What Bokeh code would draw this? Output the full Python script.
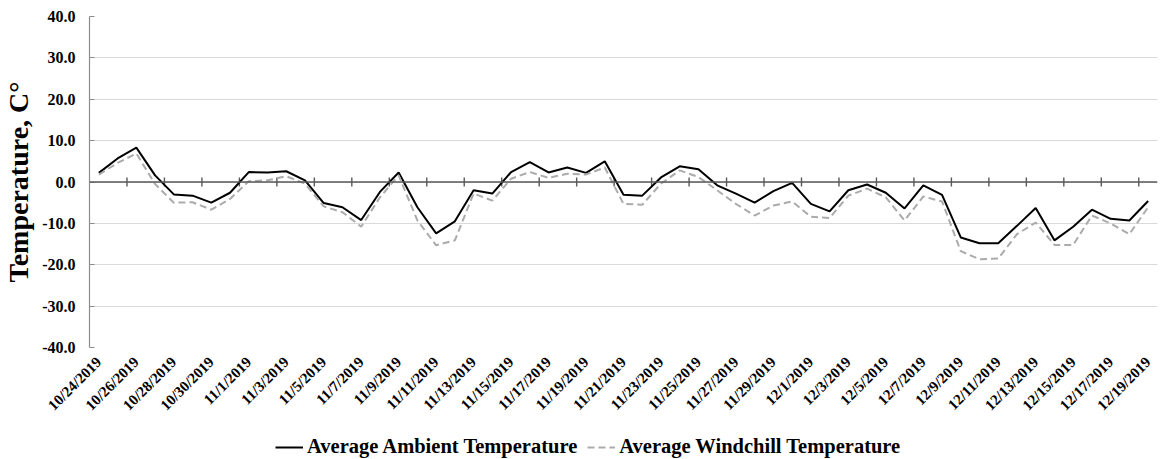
import numpy as np
from bokeh.plotting import figure
from bokeh.layouts import column
from bokeh.models import Span, FixedTicker, Legend, LegendItem, ColumnDataSource, Range1d
from bokeh.embed import file_html
from bokeh.resources import INLINE

dates = [
    "10/24/2019", "10/25/2019", "10/26/2019", "10/27/2019", "10/28/2019", "10/29/2019",
    "10/30/2019", "10/31/2019", "11/1/2019", "11/2/2019", "11/3/2019", "11/4/2019",
    "11/5/2019", "11/6/2019", "11/7/2019", "11/8/2019", "11/9/2019", "11/10/2019",
    "11/11/2019", "11/12/2019", "11/13/2019", "11/14/2019", "11/15/2019", "11/16/2019",
    "11/17/2019", "11/18/2019", "11/19/2019", "11/20/2019", "11/21/2019", "11/22/2019",
    "11/23/2019", "11/24/2019", "11/25/2019", "11/26/2019", "11/27/2019", "11/28/2019",
    "11/29/2019", "11/30/2019", "12/1/2019", "12/2/2019", "12/3/2019", "12/4/2019",
    "12/5/2019", "12/6/2019", "12/7/2019", "12/8/2019", "12/9/2019", "12/10/2019",
    "12/11/2019", "12/12/2019", "12/13/2019", "12/14/2019", "12/15/2019", "12/16/2019",
    "12/17/2019", "12/18/2019", "12/19/2019",
]

ambient = [2.2, 5.7, 8.3, 1.6, -3.0, -3.3, -5.0, -2.6, 2.4, 2.3,
           2.6, 0.4, -5.1, -6.1, -9.2, -2.4, 2.3, -6.1, -12.4, -9.5,
           -2.0, -2.8, 2.4, 4.8, 2.3, 3.5, 2.2, 5.0, -3.1, -3.3,
           1.1, 3.8, 3.1, -0.8, -2.8, -5.0, -2.2, -0.2, -5.3, -7.1,
           -2.0, -0.6, -2.6, -6.4, -0.8, -3.1, -13.4, -14.8, -14.8, -10.6,
           -6.3, -14.1, -10.8, -6.7, -8.9, -9.3, -4.6]

windchill = [1.8, 4.6, 6.9, -0.5, -5.0, -4.9, -6.7, -4.1, 0.2, 0.4,
             1.4, -0.4, -5.9, -7.3, -10.8, -3.7, 1.6, -9.3, -15.3, -14.1,
             -2.8, -4.5, 0.8, 2.4, 1.0, 2.0, 1.8, 3.5, -5.3, -5.5,
             -0.4, 2.8, 1.2, -2.0, -5.3, -8.1, -5.7, -4.7, -8.4, -8.7,
             -3.3, -1.6, -3.7, -9.3, -3.5, -4.7, -16.7, -18.7, -18.5, -12.6,
             -9.8, -15.2, -15.2, -8.1, -10.0, -12.6, -6.1]

series_names = ["Average Ambient Temperature", "Average Windchill Temperature"]
y_ticks = [-40, -30, -20, -10, 0, 10, 20, 30, 40]

FONT = "Liberation Serif"
AMB_STYLE = dict(line_color="black", line_width=2)
WC_STYLE = dict(line_color="#ababab", line_width=2, line_dash="7 4")
n = len(dates)
idx = np.arange(n)

p = figure(width=1161, height=423, output_backend="svg", toolbar_location=None,
           x_range=Range1d(-0.5, n - 0.5), y_range=Range1d(-40, 40),
           min_border_left=89, min_border_right=4, min_border_top=16,
           min_border_bottom=76)
p.outline_line_color = None

# grid
p.xgrid.visible = False
p.ygrid.ticker = FixedTicker(ticks=y_ticks)
p.ygrid.grid_line_color = "#d9d9d9"
p.ygrid.grid_line_width = 1.2

# y axis
p.yaxis.ticker = FixedTicker(ticks=y_ticks)
p.yaxis.major_label_overrides = {t: f"{t:.1f}" for t in y_ticks}
p.yaxis.axis_line_color = "#8c8c8c"
p.yaxis.axis_line_width = 1.2
p.yaxis.major_tick_line_color = "#8c8c8c"
p.yaxis.major_tick_in = 5
p.yaxis.major_tick_out = 0
p.yaxis.minor_tick_line_color = None
p.yaxis.major_label_text_font = FONT
p.yaxis.major_label_text_font_style = "bold"
p.yaxis.major_label_text_font_size = "16px"
p.yaxis.major_label_text_color = "black"
p.yaxis.major_label_standoff = 14
p.yaxis.axis_label = "Temperature, C°"
p.yaxis.axis_label_text_font = FONT
p.yaxis.axis_label_text_font_style = "bold"
p.yaxis.axis_label_text_font_size = "28px"
p.yaxis.axis_label_text_color = "black"
p.yaxis.axis_label_standoff = 5

# x axis
label_ticks = list(range(0, n, 2))
p.xaxis.ticker = FixedTicker(ticks=label_ticks)
p.xaxis.major_label_overrides = {i: dates[i] for i in label_ticks}
p.xaxis.axis_line_color = None
p.xaxis.major_tick_line_color = None
p.xaxis.minor_tick_line_color = None
p.xaxis.major_label_orientation = np.pi / 4
p.xaxis.major_label_text_font = FONT
p.xaxis.major_label_text_font_style = "bold"
p.xaxis.major_label_text_font_size = "15px"
p.xaxis.major_label_text_color = "black"
p.xaxis.major_label_standoff = 6

# zero line with tick marks at every second category boundary
p.add_layout(Span(location=0, dimension="width", line_color="#595959", line_width=1.6))
bounds = np.arange(1.5, n - 1, 2)
p.scatter(x=bounds, y=np.zeros(len(bounds)), marker="dash", angle=np.pi / 2, size=9,
          line_color="#595959", line_width=1.4)

src = ColumnDataSource(dict(x=idx, amb=ambient, wc=windchill))
p.line("x", "amb", source=src, **AMB_STYLE)
p.line("x", "wc", source=src, **WC_STYLE)

# legend strip below the chart
lg = figure(width=1161, height=36, output_backend="svg", toolbar_location=None,
            x_range=Range1d(0, 1), y_range=Range1d(0, 1), min_border=0,
            x_axis_type=None, y_axis_type=None)
lg.outline_line_color = None
lg.grid.visible = False
l_amb = lg.line("x", "amb", source=src, visible=False, **AMB_STYLE)
l_wc = lg.line("x", "wc", source=src, visible=False, **WC_STYLE)

legend = Legend(items=[LegendItem(label=series_names[0], renderers=[l_amb]),
                       LegendItem(label=series_names[1], renderers=[l_wc])],
                orientation="horizontal", location=(186, 1))
legend.label_text_font = FONT
legend.label_text_font_style = "bold"
legend.label_text_font_size = "20.5px"
legend.label_text_color = "black"
legend.border_line_color = None
legend.background_fill_alpha = 0
legend.inactive_fill_alpha = 0
legend.glyph_width = 28
legend.label_standoff = 4
legend.spacing = 10
legend.padding = 0
legend.margin = 0
lg.add_layout(legend)

open("out.html", "w").write(file_html(column(p, lg, spacing=0), INLINE))
